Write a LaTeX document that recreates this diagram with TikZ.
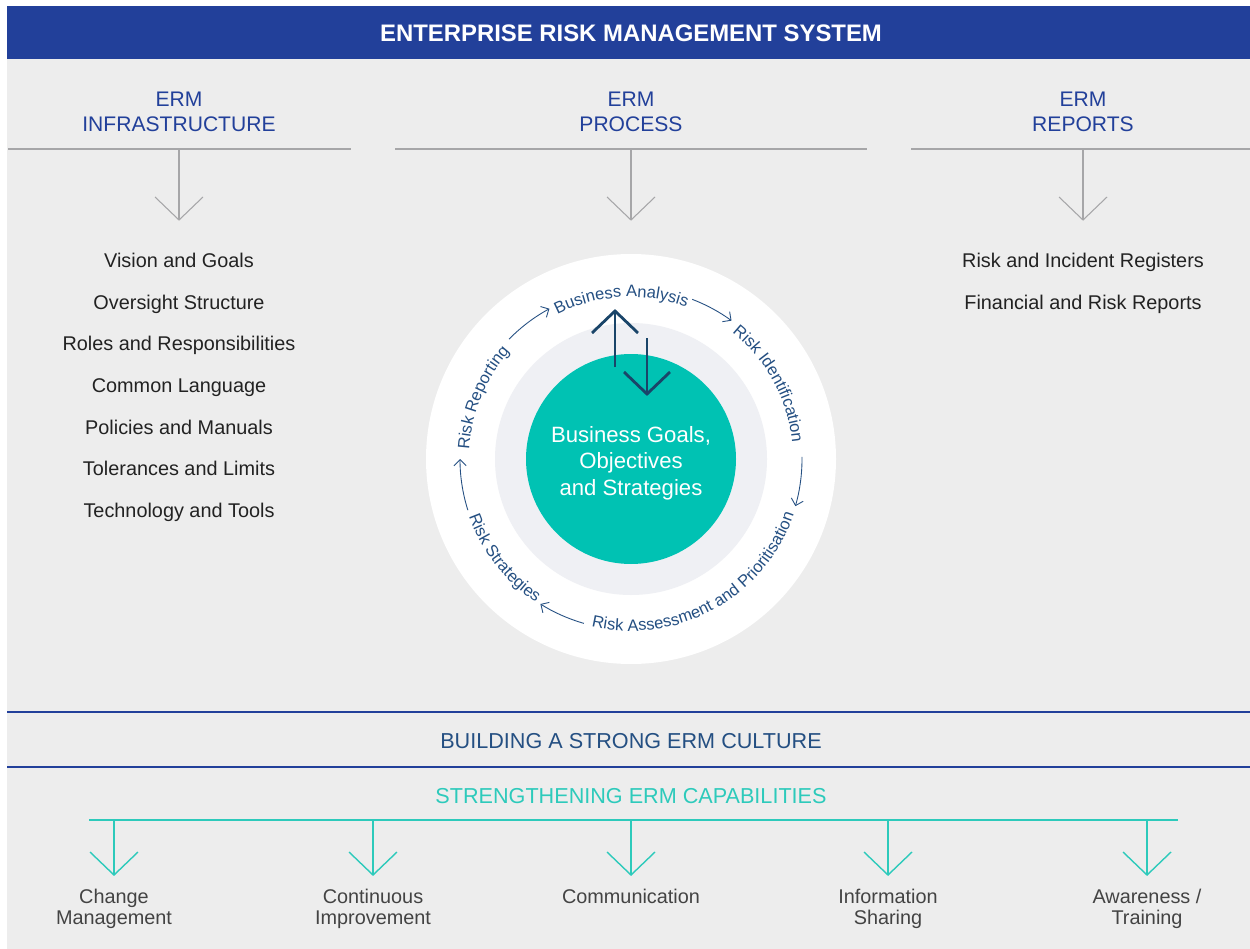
\documentclass[tikz,border=0pt]{standalone}
\usepackage{fontspec}
\setmainfont{Liberation Sans}
\usetikzlibrary{arrows.meta,decorations.text}

\definecolor{ermblue}{HTML}{22409A}
\definecolor{ermnavy}{HTML}{244F82}
\definecolor{ermteal}{HTML}{00C2B3}
\definecolor{ermaqua}{HTML}{2DCABB}
\definecolor{ermgray}{HTML}{EDEDED}
\definecolor{ermring}{HTML}{EFF0F4}
\definecolor{ermline}{HTML}{A6A6A8}
\definecolor{ermtext}{HTML}{222222}
\definecolor{ermdark}{HTML}{1A4569}

\tikzset{
  colhead/.style={font=\fontsize{12}{14.2}\selectfont, text=ermblue, align=center, inner sep=0pt, anchor=south},
  listitem/.style={font=\fontsize{11.3}{13}\selectfont, text=ermtext, inner sep=0pt, anchor=base},
  capitem/.style={font=\fontsize{11.3}{11.6}\selectfont, text=ermtext!85, align=center, inner sep=0pt, anchor=north},
  greyarrow/.style={draw=ermline, line width=0.6pt},
  tealarrow/.style={draw=ermaqua, line width=0.8pt},
  cyclearrow/.style={draw=ermnavy, line width=0.5pt, -{Straight Barb[length=3.5pt,width=7pt]}},
  cycletext/.style={decorate, decoration={text along path, text align=center,
      text={|\fontsize{9.4}{10}\selectfont\color{ermnavy}|#1}}},
}

\begin{document}
\begin{tikzpicture}[x=0.02cm, y=0.02cm]
  \useasboundingbox (0,0) rectangle (1250,-949);
  % backgrounds
  \fill[white] (0,0) rectangle (1250,-949);
  \fill[ermgray] (7,-59) rectangle (1250,-949);
  \fill[ermblue] (7,-6) rectangle (1250,-59);
  \node[font=\bfseries\fontsize{13.6}{16}\selectfont, text=white, anchor=base, inner sep=0pt] (title) at (631,-41.5) {ENTERPRISE RISK MANAGEMENT SYSTEM};

  % three columns
  \node[colhead] (infra) at (179,-132) {ERM\\INFRASTRUCTURE};
  \node[colhead] (process) at (631,-132) {ERM\\PROCESS};
  \node[colhead] (reports) at (1083,-132) {ERM\\REPORTS};
  \draw[ermline, line width=1.1pt] (8,-149) -- (351,-149);
  \draw[ermline, line width=1.1pt] (395,-149) -- (867,-149);
  \draw[ermline, line width=1.1pt] (911,-149) -- (1250,-149);
  \foreach \x in {179,631,1083} {
    \draw[greyarrow] (\x,-149) -- (\x,-220);
    \draw[greyarrow] (\x-24,-197) -- (\x,-220) -- (\x+24,-197);
  }

  \foreach \t [count=\i] in {Vision and Goals, Oversight Structure, Roles and Responsibilities,
      Common Language, Policies and Manuals, Tolerances and Limits, Technology and Tools}
    \node[listitem] (infra-\i) at (179,{-268-41.5*(\i-1)}) {\t};
  \node[listitem] (reports-1) at (1083,-268) {Risk and Incident Registers};
  \node[listitem] (reports-2) at (1083,-309.5) {Financial and Risk Reports};

  % process wheel
  \coordinate (c) at (631,-459);
  \fill[white] (c) circle[radius=205];
  \fill[ermring] (c) circle[radius=136];
  \fill[ermteal] (c) circle[radius=105];
  \node[font=\fontsize{12.6}{15}\selectfont, text=white, align=center, inner sep=0pt] (goals) at (631,-463) {Business Goals,\\Objectives\\and Strategies};

  \path[cycletext={Business Analysis}] (c) ++(125:162) arc[start angle=125, end angle=62, radius=162];
  \path[cycletext={Risk Identification}] (c) ++(60:162) arc[start angle=60, end angle=-3, radius=162];
  \path[cycletext={Risk Assessment and Prioritisation}] (c) ++(-110:172) arc[start angle=-110, end angle=-12, radius=172];
  \path[cycletext={Risk Strategies}] (c) ++(-167:172) arc[start angle=-167, end angle=-117, radius=172];
  \path[cycletext={Risk Reporting}] (c) ++(185:162) arc[start angle=185, end angle=130, radius=162];

  \draw[cyclearrow] (c) ++(69:171) arc[start angle=69, end angle=54, radius=171];
  \draw[cyclearrow] (c) ++(0.7:171) arc[start angle=0.7, end angle=-16, radius=171];
  \draw[cyclearrow] (c) ++(-106:171) arc[start angle=-106, end angle=-122, radius=171];
  \draw[cyclearrow] (c) ++(-162.6:171) arc[start angle=-162.6, end angle=-180, radius=171];
  \draw[cyclearrow] (c) ++(135.5:171) arc[start angle=135.5, end angle=118.5, radius=171];

  % up and down arrows
  \draw[ermdark, line width=0.8pt] (615,-367) -- (615,-311);
  \draw[ermdark, line width=1.6pt] (592,-333) -- (615,-311) -- (638,-333);
  \draw[ermdark, line width=0.8pt] (647,-338) -- (647,-394);
  \draw[ermdark, line width=1.6pt] (624,-372) -- (647,-394) -- (670,-372);

  % culture band
  \draw[ermblue, line width=0.6pt] (7,-712) -- (1250,-712);
  \draw[ermblue, line width=0.6pt] (7,-767) -- (1250,-767);
  \node[font=\fontsize{12.3}{14}\selectfont, text=ermnavy, anchor=base, inner sep=0pt] (culture) at (631,-748) {BUILDING A STRONG ERM CULTURE};
  \node[font=\fontsize{12.3}{14}\selectfont, text=ermaqua, anchor=base, inner sep=0pt] (capab) at (631,-803) {STRENGTHENING ERM CAPABILITIES};

  % capabilities
  \draw[tealarrow] (89,-820) -- (1178,-820);
  \foreach \x/\t [count=\i] in {114/{Change\\Management}, 373/{Continuous\\Improvement}, 631/{Communication},
      888/{Information\\Sharing}, 1147/{Awareness /\\Training}} {
    \draw[tealarrow] (\x,-820) -- (\x,-875);
    \draw[tealarrow] (\x-24,-852) -- (\x,-875) -- (\x+24,-852);
    \node[capitem] (cap-\i) at (\x,-889) {\t};
  }
\end{tikzpicture}
\end{document}
